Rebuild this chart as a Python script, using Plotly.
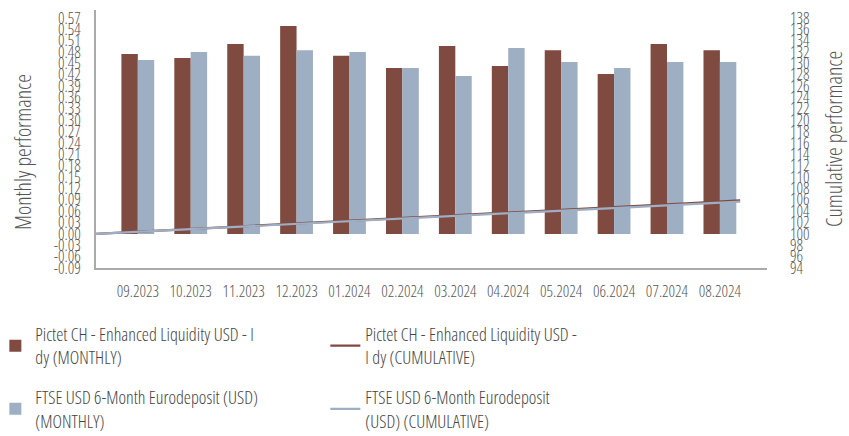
import plotly.graph_objects as go

months = ["09.2023", "10.2023", "11.2023", "12.2023", "01.2024", "02.2024",
          "03.2024", "04.2024", "05.2024", "06.2024", "07.2024", "08.2024"]
fund_monthly = [0.475, 0.464, 0.501, 0.549, 0.470, 0.438, 0.496, 0.443, 0.485, 0.422, 0.501, 0.485]
bench_monthly = [0.459, 0.480, 0.470, 0.485, 0.480, 0.438, 0.417, 0.491, 0.454, 0.438, 0.454, 0.454]
fund_cumulative = [100.00, 100.48, 100.94, 101.45, 102.01, 102.49, 102.94, 103.45, 103.91, 104.41, 104.85, 105.38, 105.89]
bench_cumulative = [100.00, 100.46, 100.94, 101.42, 101.91, 102.40, 102.85, 103.28, 103.79, 104.26, 104.72, 105.19, 105.67]

left_ticks = [-0.09, -0.06, -0.03, 0.00, 0.03, 0.06, 0.09, 0.12, 0.15, 0.18, 0.21, 0.24,
              0.27, 0.30, 0.33, 0.36, 0.39, 0.42, 0.45, 0.48, 0.51, 0.54, 0.57]
right_ticks = list(range(94, 140, 2))

fund_name_m = "Pictet CH - Enhanced Liquidity USD - I<br>dy (MONTHLY)"
fund_name_c = "Pictet CH - Enhanced Liquidity USD -<br>I dy (CUMULATIVE)"
bench_name_m = "FTSE USD 6-Month Eurodeposit (USD)<br>(MONTHLY)"
bench_name_c = "FTSE USD 6-Month Eurodeposit<br>(USD) (CUMULATIVE)"

RED = "#7f4a40"
BLUE = "#9eaec3"
FONT = "Open Sans Condensed, Noto Sans Condensed, sans-serif"
TXT = "#555555"

cat_idx = list(range(len(months)))
line_idx = list(range(len(fund_cumulative)))

def f(size, color=TXT):
    return dict(family=FONT, size=size, color=color, weight=300)

fig = go.Figure()
fig.add_trace(go.Bar(x=cat_idx, y=fund_monthly, name=fund_name_m, marker_color=RED,
                     marker_line_width=0, legend="legend"))
fig.add_trace(go.Scatter(x=line_idx, y=fund_cumulative, name=fund_name_c, mode="lines",
                         line=dict(color=RED, width=2.2), xaxis="x2", yaxis="y2",
                         legend="legend"))
fig.add_trace(go.Bar(x=cat_idx, y=bench_monthly, name=bench_name_m, marker_color=BLUE,
                     marker_line_width=0, legend="legend2"))
fig.add_trace(go.Scatter(x=line_idx, y=bench_cumulative, name=bench_name_c, mode="lines",
                         line=dict(color=BLUE, width=2.2), xaxis="x2", yaxis="y2",
                         legend="legend2"))

leg_common = dict(orientation="h", xanchor="left", yanchor="top", traceorder="normal",
                  entrywidth=285, font=f(18, "#444444"), bgcolor="rgba(0,0,0,0)")

fig.update_layout(
    width=849, height=436,
    margin=dict(l=96, r=82, t=10, b=168, autoexpand=False),
    paper_bgcolor="white", plot_bgcolor="white",
    font=f(16),
    barmode="group", bargap=0.38, bargroupgap=0,
    showlegend=True,
    legend=dict(x=-0.15, y=-0.185, **leg_common),
    legend2=dict(x=-0.15, y=-0.43, **leg_common),
    xaxis=dict(range=[-0.79, 11.89], tickvals=cat_idx, ticktext=months, showgrid=False,
               zeroline=False, showline=True, linecolor="#aaaaaa", linewidth=2,
               ticks="", tickangle=0, ticklabelstandoff=8, tickfont=f(16)),
    xaxis2=dict(range=[0, 12.5], overlaying="x", visible=False),
    yaxis=dict(range=[-0.09, 0.591], tickvals=left_ticks,
               ticktext=[f"{v:.2f}" for v in left_ticks], showgrid=False, zeroline=False,
               showline=True, linecolor="#aaaaaa", linewidth=2, ticks="",
               ticklabelstandoff=10, tickfont=f(16)),
    yaxis2=dict(range=[94, 139.4], overlaying="y", side="right", tickvals=right_ticks,
                ticktext=[str(v) for v in right_ticks], showgrid=False, zeroline=False,
                showline=False, ticks="", ticklabelstandoff=22, tickfont=f(16)),
    annotations=[
        dict(text="Monthly performance", textangle=-90, xref="paper", yref="paper",
             x=-0.11, y=0.45, xanchor="center", yanchor="middle", showarrow=False,
             font=f(22)),
        dict(text="Cumulative performance", textangle=-90, xref="paper", yref="paper",
             x=1.099, y=0.5, xanchor="center", yanchor="middle", showarrow=False,
             font=f(22)),
    ],
)

post = """
document.body.style.margin='0';
function measure(css){
  var sp=document.createElement('span');
  sp.style.cssText='position:absolute;visibility:hidden;white-space:nowrap;font-size:40px;font-weight:300;font-family:"Open Sans";'+css;
  sp.textContent='Enhanced Liquidity 09.2023';
  document.body.appendChild(sp);
  var r=sp.getBoundingClientRect().width; sp.remove(); return r;
}
var wNormal=measure(''), wNarrow=measure('font-stretch:75%;font-variation-settings:"wdth" 75;');
var css;
if (wNarrow < wNormal*0.9) {
  css='svg text{font-family:"Open Sans" !important;font-stretch:75% !important;font-variation-settings:"wdth" 75 !important;}';
} else {
  css='svg text{font-stretch:condensed !important;}';
}
var s=document.createElement('style');
s.textContent=css;
document.head.appendChild(s);
var gd=document.querySelector('.plotly-graph-div');
Plotly.newPlot(gd, gd.data, gd.layout, {displayModeBar:false, responsive:false});
"""

fig.write_html("out.html", post_script=post, config={"displayModeBar": False})
